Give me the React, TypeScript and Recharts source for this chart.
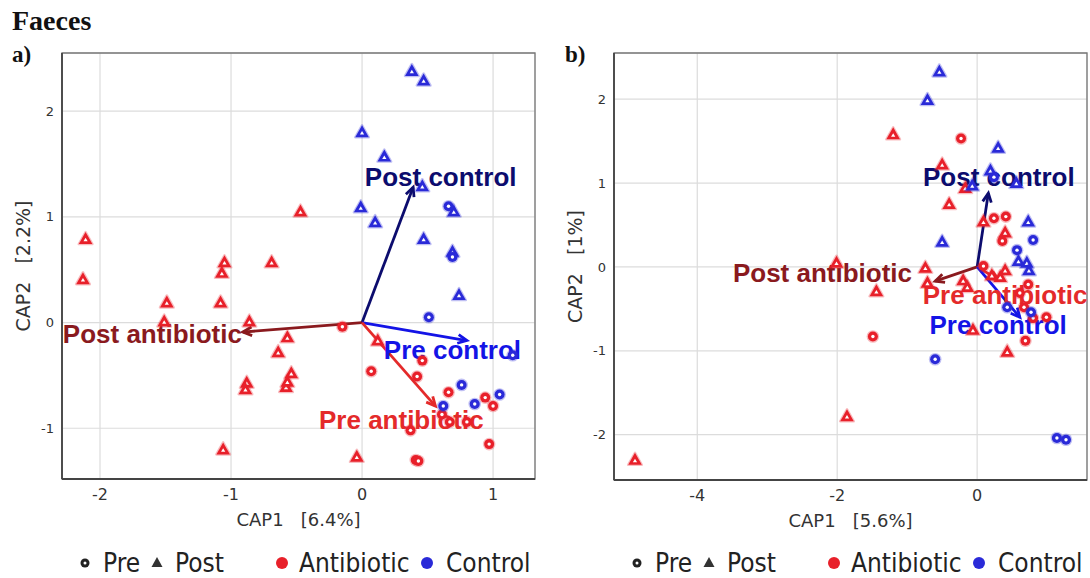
import React from 'react';
import {
  ScatterChart,
  Scatter,
  XAxis,
  YAxis,
  CartesianGrid,
  ReferenceLine,
  ReferenceArea,
} from 'recharts';

type P = [number, number];

// ---------- Panel a (CAP1 6.4%, CAP2 2.2%) ----------
const preAntibioticA: P[] = [
  [-0.15, -0.04], [0.07, -0.46], [0.42, -0.51], [0.46, -0.36], [0.66, -0.66],
  [0.94, -0.71], [1.0, -0.79], [0.61, -0.87], [0.67, -0.94], [0.8, -0.94],
  [0.37, -1.02], [0.97, -1.15], [0.41, -1.3], [0.43, -1.31],
];
const postAntibioticA: P[] = [
  [-2.11, 0.79], [-2.13, 0.41], [-0.47, 1.05], [-1.05, 0.57], [-1.07, 0.47],
  [-0.69, 0.57], [-1.49, 0.19], [-1.08, 0.19], [-1.51, 0.01], [-0.86, 0.01],
  [-0.57, -0.14], [-0.64, -0.28], [-0.54, -0.48], [-0.88, -0.57], [-0.89, -0.63],
  [-0.58, -0.61], [-0.57, -0.56], [-1.06, -1.2], [-0.04, -1.27], [0.12, -0.17],
];
const preControlA: P[] = [
  [0.51, 0.05], [0.76, -0.59], [0.86, -0.77], [1.05, -0.68], [0.62, -0.79],
  [1.15, -0.31], [0.66, 1.1], [0.69, 0.62],
];
const postControlA: P[] = [
  [0.38, 2.38], [0.47, 2.29], [0.0, 1.8], [0.17, 1.57], [0.46, 1.29],
  [-0.01, 1.09], [0.1, 0.95], [0.7, 1.05], [0.47, 0.79], [0.69, 0.67], [0.74, 0.26],
];
const arrowNamesA = ['Post control', 'Post antibiotic', 'Pre control', 'Pre antibiotic'];
const arrowTipsA: P[] = [[0.39, 1.28], [-0.91, -0.09], [0.8, -0.17], [0.56, -0.79]];
const arrowLabelsA: P[] = [[0.6, 1.38], [-1.6, -0.11], [0.69, -0.26], [0.3, -0.92]];
const xDomainA: P = [-2.29, 1.32];
const yDomainA: P = [-1.48, 2.55];
const xTicksA = [-2, -1, 0, 1];
const yTicksA = [-1, 0, 1, 2];

// ---------- Panel b (CAP1 5.6%, CAP2 1%) ----------
const preAntibioticB: P[] = [
  [-0.23, 1.53], [0.24, 0.58], [0.41, 0.6], [0.36, 0.31], [0.09, 0.01],
  [0.73, -0.21], [0.61, -0.31], [0.67, -0.48], [0.8, -0.61], [0.99, -0.6],
  [0.69, -0.88], [-1.49, -0.83],
];
const postAntibioticB: P[] = [
  [-1.2, 1.58], [-0.5, 1.22], [-0.17, 0.94], [-0.4, 0.75], [0.09, 0.54],
  [0.4, 0.41], [-2.01, 0.05], [-0.74, -0.01], [-1.44, -0.29], [-0.2, -0.16],
  [-0.71, -0.19], [0.21, -0.1], [0.33, -0.12], [0.4, -0.04], [-0.06, -0.75],
  [0.43, -1.01], [-1.86, -1.78], [-4.89, -2.3], [-0.14, -0.24],
];
const preControlB: P[] = [
  [0.24, 1.07], [0.8, 0.32], [0.57, 0.2], [0.43, -0.48], [0.77, -0.54],
  [-0.6, -1.1], [1.14, -2.04], [1.27, -2.06],
];
const postControlB: P[] = [
  [-0.54, 2.33], [-0.71, 1.99], [0.3, 1.42], [0.19, 1.15], [-0.07, 0.97],
  [0.56, 1.0], [0.73, 0.54], [-0.5, 0.3], [0.59, 0.07], [0.71, 0.05], [0.74, -0.04],
];
const arrowNamesB = ['Post control', 'Post antibiotic', 'Pre antibiotic', 'Pre control'];
const arrowTipsB: P[] = [[0.16, 0.88], [-0.6, -0.17], [0.3, -0.15], [0.61, -0.6]];
const arrowLabelsB: P[] = [[0.31, 1.07], [-2.21, -0.07], [0.4, -0.33], [0.3, -0.69]];
const xDomainB: P = [-5.19, 1.57];
const yDomainB: P = [-2.54, 2.55];
const xTicksB = [-4, -2, 0];
const yTicksB = [-2, -1, 0, 1, 2];

const legendLabels = ['Pre', 'Post', 'Antibiotic', 'Control'];
const NB = '\u00a0\u00a0\u00a0';

// ---------- styling ----------
const RED = '#e8202a';
const BLUE = '#2a2ad8';
const ARROW_COLORS: Record<string, string> = {
  'Post control': '#0c0c6e',
  'Post antibiotic': '#8a1a1e',
  'Pre control': '#1414e6',
  'Pre antibiotic': '#e42a2a',
};

const toPts = (arr: P[]) => arr.map(([x, y]) => ({ x, y }));

const triShape = (color: string) => (props: any) => {
  const { cx, cy } = props;
  if (cx == null || cy == null) return <g />;
  const outer = `${cx},${cy - 7} ${cx - 6.8},${cy + 5} ${cx + 6.8},${cy + 5}`;
  const inner = `${cx},${cy - 1.2} ${cx - 2.1},${cy + 2.3} ${cx + 2.1},${cy + 2.3}`;
  return (
    <g>
      <polygon points={outer} fill={color} stroke={color} strokeWidth={2.5} strokeOpacity={0.3} strokeLinejoin="round" />
      <polygon points={inner} fill="#fff" />
    </g>
  );
};

const circShape = (color: string) => (props: any) => {
  const { cx, cy } = props;
  if (cx == null || cy == null) return <g />;
  return (
    <g>
      <circle cx={cx} cy={cy} r={6.3} fill={color} fillOpacity={0.3} />
      <circle cx={cx} cy={cy} r={5} fill={color} />
      <circle cx={cx} cy={cy} r={1.7} fill="#fff" />
    </g>
  );
};

const arrowShape = (color: string) => (props: any) => {
  const x1 = Number(props.x1);
  const y1 = Number(props.y1);
  const x2 = Number(props.x2);
  const y2 = Number(props.y2);
  const ang = Math.atan2(y2 - y1, x2 - x1);
  const L = 10;
  const a = Math.PI / 7;
  const p1 = `${x2 - L * Math.cos(ang - a)},${y2 - L * Math.sin(ang - a)}`;
  const p2 = `${x2 - L * Math.cos(ang + a)},${y2 - L * Math.sin(ang + a)}`;
  return (
    <g>
      <line x1={x1} y1={y1} x2={x2} y2={y2} stroke={color} strokeWidth={2.8} />
      <polyline points={`${p1} ${x2},${y2} ${p2}`} fill="none" stroke={color} strokeWidth={2.8} />
    </g>
  );
};

const labelShape = (props: any) => {
  const { cx, cy, payload } = props;
  if (cx == null || cy == null) return <g />;
  return (
    <text
      x={cx}
      y={cy}
      textAnchor="middle"
      dominantBaseline="central"
      fill={ARROW_COLORS[payload.name]}
      fontSize={26}
      fontWeight="bold"
      fontFamily="'Liberation Sans', Arial, sans-serif"
    >
      {payload.name}
    </text>
  );
};

interface PanelProps {
  preAntibiotic: P[];
  postAntibiotic: P[];
  preControl: P[];
  postControl: P[];
  names: string[];
  tips: P[];
  labels: P[];
  xDomain: P;
  yDomain: P;
  xTicks: number[];
  yTicks: number[];
  xTitle: string;
  yTitle: string;
  marginLeft: number;
  yAxisWidth: number;
  marginRight: number;
  yTitleOffset: number;
  xAxisHeight: number;
  marginBottom: number;
}

function Panel(p: PanelProps) {
  const labelData = p.names.map((name, i) => ({ x: p.labels[i][0], y: p.labels[i][1], name }));
  return (
    <ScatterChart
      width={545}
      height={578}
      margin={{ top: 53, right: p.marginRight, bottom: p.marginBottom, left: p.marginLeft }}
      style={{ background: 'transparent' }}
    >
      <CartesianGrid stroke="#dcdcdc" strokeWidth={1.2} />
      <XAxis
        type="number"
        dataKey="x"
        domain={p.xDomain}
        ticks={p.xTicks}
        allowDataOverflow
        height={p.xAxisHeight}
        tickLine={false}
        tickSize={0}
        tickMargin={10}
        axisLine={{ stroke: '#444', strokeWidth: 1.8 }}
        tick={{ fontSize: 16, fill: '#333', fontFamily: "'DejaVu Sans', sans-serif" }}
        label={{
          value: p.xTitle,
          position: 'insideBottom',
          offset: 3,
          style: { fontSize: 18, fill: '#333', fontFamily: "'DejaVu Sans', sans-serif" },
        }}
      />
      <YAxis
        type="number"
        dataKey="y"
        domain={p.yDomain}
        ticks={p.yTicks}
        allowDataOverflow
        width={p.yAxisWidth}
        tickLine={false}
        tickSize={0}
        tickMargin={8}
        axisLine={{ stroke: '#444', strokeWidth: 1.8 }}
        tick={{ fontSize: 13, fill: '#333', fontFamily: "'DejaVu Sans', sans-serif" }}
        label={{
          value: p.yTitle,
          angle: -90,
          position: 'insideLeft',
          offset: p.yTitleOffset,
          style: { fontSize: 19, fill: '#333', textAnchor: 'middle', fontFamily: "'DejaVu Sans', sans-serif" },
        }}
      />
      <ReferenceArea
        x1={p.xDomain[0]}
        x2={p.xDomain[1]}
        y1={p.yDomain[0]}
        y2={p.yDomain[1]}
        fill="none"
        stroke="#777"
        strokeWidth={1.3}
      />
      <Scatter data={labelData} shape={labelShape} isAnimationActive={false} />
      {p.names.map((name, i) => (
        <ReferenceLine
          key={name}
          segment={[{ x: 0, y: 0 }, { x: p.tips[i][0], y: p.tips[i][1] }]}
          shape={arrowShape(ARROW_COLORS[name])}
        />
      ))}
      <Scatter data={toPts(p.postAntibiotic)} shape={triShape(RED)} isAnimationActive={false} />
      <Scatter data={toPts(p.preAntibiotic)} shape={circShape(RED)} isAnimationActive={false} />
      <Scatter data={toPts(p.postControl)} shape={triShape(BLUE)} isAnimationActive={false} />
      <Scatter data={toPts(p.preControl)} shape={circShape(BLUE)} isAnimationActive={false} />
    </ScatterChart>
  );
}

function Legend({ left }: { left: number }) {
  const y = 563;
  const font = { fontFamily: "'DejaVu Sans Condensed', 'DejaVu Sans', sans-serif", fontSize: 26, fill: '#222' };
  return (
    <g>
      <circle cx={left + 23} cy={y} r={4.5} fill="#222" />
      <circle cx={left + 23} cy={y} r={1.5} fill="#fff" />
      <text x={left + 41} y={y} dominantBaseline="central" {...font}>{legendLabels[0]}</text>
      <polygon points={`${left + 95},${y - 6} ${left + 89.5},${y + 4} ${left + 100.5},${y + 4}`} fill="#333" />
      <text x={left + 113} y={y} dominantBaseline="central" {...font}>{legendLabels[1]}</text>
      <circle cx={left + 220} cy={y} r={6} fill={RED} />
      <text x={left + 237} y={y} dominantBaseline="central" {...font}>{legendLabels[2]}</text>
      <circle cx={left + 365} cy={y} r={6} fill={BLUE} />
      <text x={left + 384} y={y} dominantBaseline="central" {...font}>{legendLabels[3]}</text>
    </g>
  );
}

export default function App() {
  return (
    <div style={{ position: 'absolute', left: 0, top: 0, width: 1090, height: 578, background: '#fff' }}>
      <svg width={1090} height={578} style={{ position: 'absolute', left: 0, top: 0 }}>
        <text x={12} y={30} fontFamily="'Liberation Serif', 'Times New Roman', serif" fontWeight="bold" fontSize={28} fill="#111">Faeces</text>
        <text x={12} y={62} fontFamily="'Liberation Serif', 'Times New Roman', serif" fontWeight="bold" fontSize={23} fill="#111">a)</text>
        <text x={565} y={62} fontFamily="'Liberation Serif', 'Times New Roman', serif" fontWeight="bold" fontSize={23} fill="#111">b)</text>
        <Legend left={62} />
        <Legend left={614} />
      </svg>
      <div style={{ position: 'absolute', left: 0, top: 0 }}>
        <Panel
          preAntibiotic={preAntibioticA}
          postAntibiotic={postAntibioticA}
          preControl={preControlA}
          postControl={postControlA}
          names={arrowNamesA}
          tips={arrowTipsA}
          labels={arrowLabelsA}
          xDomain={xDomainA}
          yDomain={yDomainA}
          xTicks={xTicksA}
          yTicks={yTicksA}
          xTitle={`CAP1${NB}[6.4%]`}
          yTitle={`CAP2${NB}[2.2%]`}
          marginLeft={10}
          yAxisWidth={52}
          marginRight={10}
          yTitleOffset={13}
          xAxisHeight={50}
          marginBottom={49}
        />
      </div>
      <div style={{ position: 'absolute', left: 545, top: 0 }}>
        <Panel
          preAntibiotic={preAntibioticB}
          postAntibiotic={postAntibioticB}
          preControl={preControlB}
          postControl={postControlB}
          names={arrowNamesB}
          tips={arrowTipsB}
          labels={arrowLabelsB}
          xDomain={xDomainB}
          yDomain={yDomainB}
          xTicks={xTicksB}
          yTicks={yTicksB}
          xTitle={`CAP1${NB}[5.6%]`}
          yTitle={`CAP2${NB}[1%]`}
          marginLeft={10}
          yAxisWidth={59}
          marginRight={3}
          yTitleOffset={20}
          xAxisHeight={50}
          marginBottom={48}
        />
      </div>
    </div>
  );
}
